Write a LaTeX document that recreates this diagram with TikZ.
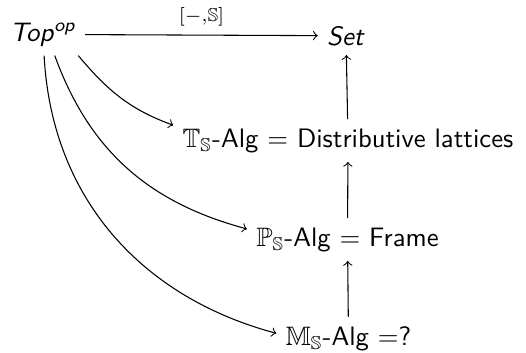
\documentclass[tikz,border=0pt]{standalone}
\usepackage{fontspec}
\usepackage{amsmath}
\usepackage{amssymb}
\usetikzlibrary{calc}

\begin{document}
\begin{tikzpicture}[x=0.375pt,y=0.375pt, every node/.style={font=\sffamily}, obj/.style={anchor=base}]
\useasboundingbox (0,0) rectangle (526,-352);
\node[obj] (top) at (43,-41) {\textit{Top}$^{\textit{op}}$};
\node[obj] (set) at (346,-45) {\textit{Set}};
\node[obj] (tdl) at (348,-147) {$\mathbb{T}_{\mathbb{S}}$-Alg = Distributive lattices};
\node[obj] (pal) at (347.5,-246) {$\mathbb{P}_{\mathbb{S}}$-Alg = Frame};
\node[obj] (mal) at (348.5,-345) {$\mathbb{M}_{\mathbb{S}}$-Alg =?};
\draw[->] (top) -- (set) node[midway, above, font=\scriptsize] {$[-{,}\mathbb{S}]$};
\foreach \a/\b in {mal/pal,pal/tdl,tdl/set} {
 \draw[->] (\a) -- (\b);
}
\draw[->] (top.-31) to[out=-50, in=160] (tdl.175);
\draw[->] (top.-61) to[out=-70, in=165] (pal.174);
\draw[->] (top.-87) to[out=-87, in=165] (mal.176);
\end{tikzpicture}
\end{document}
